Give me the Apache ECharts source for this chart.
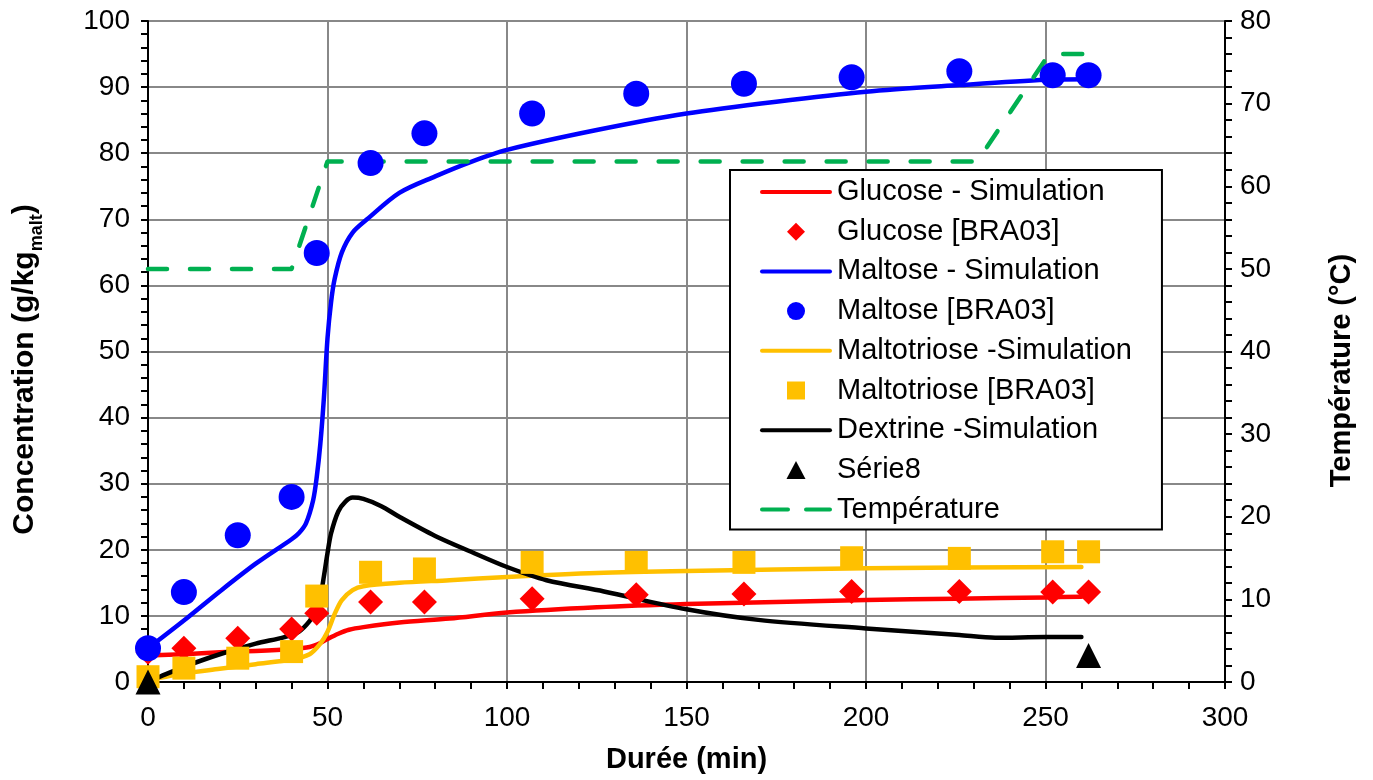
<!DOCTYPE html>
<html>
<head>
<meta charset="utf-8">
<script src="https://cdn.jsdelivr.net/npm/echarts@6/dist/echarts.min.js"></script>
<style>
html,body{margin:0;padding:0;background:#fff;}
#c{width:1373px;height:780px;}
</style>
</head>
<body>
<div id="c"></div>
<script>
// ---- Measured data [BRA03] ----
const tMeas = [0, 10, 25, 40, 47, 62, 77, 107, 136, 166, 196, 226, 252, 262];
const glucoseMeas = [4.5, 5.1, 6.6, 8.0, 10.4, 12.1, 12.1, 12.6, 13.2, 13.3, 13.7, 13.7, 13.6, 13.6];
const maltoseMeas = [5.1, 13.6, 22.2, 28.0, 64.9, 78.5, 83.0, 86.0, 89.0, 90.5, 91.5, 92.4, 91.8, 91.8];
const maltotrioseMeas = [0.8, 2.1, 3.6, 4.6, 13.0, 16.6, 17.1, 18.1, 18.1, 18.1, 18.8, 18.7, 19.7, 19.7];
const serie8T = [0, 262];
const serie8Vals = [0, 4];

// ---- Simulations ----
const tGluSim = [0, 10, 20, 30, 40, 45, 48, 50, 53, 56, 60, 70, 84, 100, 125, 150, 175, 200, 225, 250, 260];
const glucoseSim = [4.0, 4.2, 4.5, 4.7, 5.0, 5.3, 5.9, 6.5, 7.3, 7.9, 8.3, 9.0, 9.6, 10.5, 11.3, 11.8, 12.1, 12.4, 12.6, 12.8, 12.9];

const tMalSim = [0, 10, 20, 30, 40, 42, 44, 46, 47, 48, 49, 50, 51, 52, 54, 57, 61, 70, 80, 90, 100, 125, 150, 175, 200, 226, 250, 262];
const maltoseSim = [5.1, 9.3, 13.7, 17.9, 21.6, 22.5, 24.0, 27.5, 31.0, 36.0, 43.0, 52.0, 57.5, 61.0, 65.0, 68.0, 70.0, 74.0, 76.5, 78.7, 80.5, 83.5, 86.0, 87.8, 89.3, 90.3, 91.1, 91.2];

const tTriSim = [0, 5, 10, 20, 30, 40, 45, 48, 50, 52, 54, 57, 60, 70, 84, 100, 125, 150, 200, 260];
const maltotrioseSim = [0.3, 0.8, 1.3, 2.0, 2.7, 3.4, 4.2, 5.8, 7.6, 10.3, 12.4, 13.9, 14.5, 15.0, 15.4, 15.9, 16.5, 16.8, 17.2, 17.4];

const tDexSim = [0, 5, 10, 20, 30, 38, 42, 45, 47, 48, 49, 50, 51, 53, 55, 57, 60, 65, 70, 80, 90, 100, 111, 127, 150, 170, 200, 226, 236, 250, 260];
const dextrineSim = [0, 1.2, 2.3, 4.2, 5.8, 6.8, 7.6, 9.2, 11.0, 12.8, 16.0, 19.5, 22.5, 25.8, 27.3, 27.9, 27.7, 26.6, 25.0, 22.1, 19.7, 17.4, 15.4, 13.7, 11.0, 9.4, 8.1, 7.1, 6.7, 6.8, 6.8];

const tTemp = [0, 40, 50, 231, 251, 261];
const temperature = [50, 50, 63, 63, 76, 76];

// ---- Axis ticks ----
const xTicks = {min: 0, max: 300, interval: 50};
const yLeftTicks = {min: 0, max: 100, interval: 10};
const yRightTicks = {min: 0, max: 80, interval: 10};

const zip = (xs, ys) => xs.map((x, i) => [x, ys[i]]);

const FONT = '"Liberation Sans", Arial, sans-serif';
const chart = echarts.init(document.getElementById('c'), null, {renderer: 'canvas'});

const lineBase = (name, xs, ys, color, yIdx) => ({
  name, type: 'line', data: zip(xs, ys), yAxisIndex: yIdx || 0,
  symbol: 'none', smooth: 0.3,
  lineStyle: {color, width: 4.5, cap: 'round', join: 'round'},
  itemStyle: {color}, z: 3
});
const scatterBase = (name, xs, ys, color, symbol, size) => ({
  name, type: 'scatter', data: zip(xs, ys), symbol, symbolSize: size,
  itemStyle: {color, opacity: 1}, z: 4
});

// legend icons (keep aspect so markers stay square inside the 72px slot)
const ICON_LINE = 'path://M2,0H70A2,2 0 0 1 70,4H2A2,2 0 0 1 2,0Z';
const ICON_DASH = 'path://M2,0H28A2,2 0 0 1 28,4H2A2,2 0 0 1 2,0Z M46,0H70A2,2 0 0 1 70,4H46A2,2 0 0 1 46,0Z';

const axisLbl = {color: '#000', fontSize: 28, fontFamily: FONT};

chart.setOption({
  animation: false,
  backgroundColor: '#fff',
  grid: {left: 148, right: 148, top: 21, bottom: 98, containLabel: false, outerBoundsMode: 'none'},
  legend: {
    orient: 'vertical', left: 730, top: 170,
    backgroundColor: '#fff', borderColor: '#000', borderWidth: 2,
    padding: [7.5, 30, 5.5, 30],
    itemWidth: 72, itemHeight: 18, itemGap: 10.7,
    textStyle: {color: '#000', fontSize: 29, fontFamily: FONT, lineHeight: 28},
    data: [
      {name: 'Glucose - Simulation', icon: ICON_LINE},
      {name: 'Glucose [BRA03]', icon: 'path://M26.5,9L36,-0.5L45.5,9L36,18.5Z'},
      {name: 'Maltose - Simulation', icon: ICON_LINE},
      {name: 'Maltose [BRA03]', icon: 'path://M27,9A9,9 0 1 1 45,9A9,9 0 1 1 27,9Z'},
      {name: 'Maltotriose -Simulation', icon: ICON_LINE},
      {name: 'Maltotriose [BRA03]', icon: 'path://M27.5,0.5H44.5V17.5H27.5Z'},
      {name: 'Dextrine -Simulation', icon: ICON_LINE},
      {name: 'Série8', icon: 'path://M36,0.5L45,17.5H27Z'},
      {name: 'Température', icon: ICON_DASH}
    ]
  },
  xAxis: {
    type: 'value', min: xTicks.min, max: xTicks.max, interval: xTicks.interval,
    name: 'Durée (min)', nameLocation: 'middle', nameGap: 63,
    nameTextStyle: {color: '#000', fontSize: 29, fontWeight: 'bold', fontFamily: FONT},
    axisLine: {show: true, onZero: false, lineStyle: {color: '#000', width: 2}},
    axisTick: {show: true, length: 7, lineStyle: {color: '#000', width: 2}},
    minorTick: {show: true, splitNumber: 5, length: 7, lineStyle: {color: '#000', width: 2}},
    axisLabel: Object.assign({margin: 22}, axisLbl),
    splitLine: {show: true, lineStyle: {color: '#888', width: 2}}
  },
  yAxis: [{
    type: 'value', min: yLeftTicks.min, max: yLeftTicks.max, interval: yLeftTicks.interval,
    position: 'left',
    name: '{a|Concentration (g/kg}{b|malt}{a|)}', nameLocation: 'middle', nameGap: 108, nameRotate: 90,
    nameTextStyle: {
      color: '#000', fontFamily: FONT, padding: [0, 36, 0, 0],
      rich: {
        a: {fontSize: 30, fontWeight: 'bold', fontFamily: FONT, color: '#000', lineHeight: 34, verticalAlign: 'bottom'},
        b: {fontSize: 18, fontWeight: 'bold', fontFamily: FONT, color: '#000', lineHeight: 34, verticalAlign: 'bottom', padding: [0, 0, -6, 0]}
      }
    },
    axisLine: {show: true, onZero: false, lineStyle: {color: '#000', width: 2}},
    axisTick: {show: true, length: 7, lineStyle: {color: '#000', width: 2}},
    minorTick: {show: true, splitNumber: 5, length: 7, lineStyle: {color: '#000', width: 2}},
    axisLabel: Object.assign({margin: 18}, axisLbl),
    splitLine: {show: true, lineStyle: {color: '#888', width: 2}}
  }, {
    type: 'value', min: yRightTicks.min, max: yRightTicks.max, interval: yRightTicks.interval,
    position: 'right',
    name: 'Température (°C)', nameLocation: 'middle', nameGap: 102, nameRotate: 90,
    nameTextStyle: {color: '#000', fontSize: 29, fontWeight: 'bold', fontFamily: FONT, padding: [0, 38, 0, 0]},
    axisLine: {show: true, onZero: false, lineStyle: {color: '#000', width: 2}},
    axisTick: {show: true, length: 7, lineStyle: {color: '#000', width: 2}},
    minorTick: {show: true, splitNumber: 5, length: 7, lineStyle: {color: '#000', width: 2}},
    axisLabel: Object.assign({margin: 15}, axisLbl),
    splitLine: {show: false}
  }],
  series: [
    lineBase('Glucose - Simulation', tGluSim, glucoseSim, '#ff0000'),
    scatterBase('Glucose [BRA03]', tMeas, glucoseMeas, '#ff0000', 'diamond', 25),
    lineBase('Maltose - Simulation', tMalSim, maltoseSim, '#0000ff'),
    scatterBase('Maltose [BRA03]', tMeas, maltoseMeas, '#0000ff', 'circle', 26),
    lineBase('Maltotriose -Simulation', tTriSim, maltotrioseSim, '#ffc000'),
    scatterBase('Maltotriose [BRA03]', tMeas, maltotrioseMeas, '#ffc000', 'rect', 23),
    lineBase('Dextrine -Simulation', tDexSim, dextrineSim, '#000000'),
    scatterBase('Série8', serie8T, serie8Vals, '#000000', 'triangle', 25),
    Object.assign(lineBase('Température', tTemp, temperature, '#00b050', 1), {
      smooth: false,
      lineStyle: {color: '#00b050', width: 4.5, type: [19, 23], cap: 'round', join: 'round'}
    })
  ]
});
</script>
</body>
</html>
